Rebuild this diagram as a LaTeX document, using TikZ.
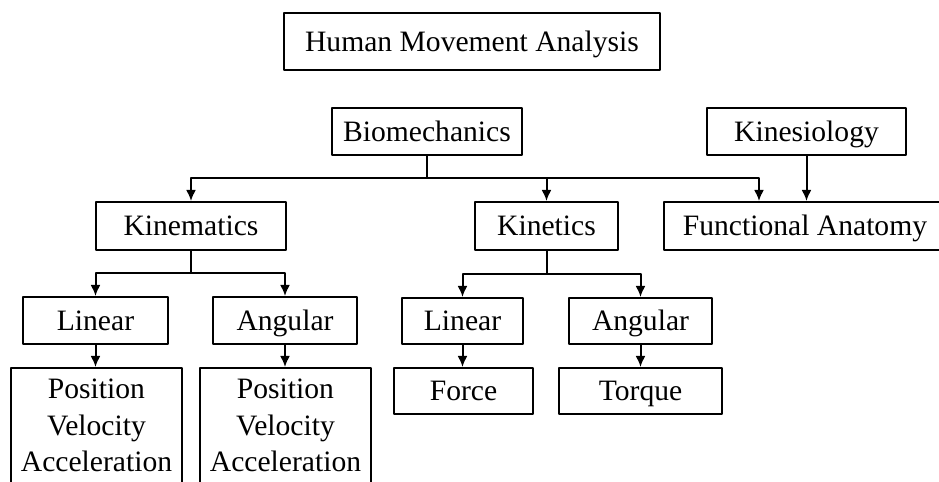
\documentclass[tikz,border=0pt]{standalone}
\usepackage{fontspec}
\setmainfont{Liberation Serif}
\usetikzlibrary{arrows.meta}
\begin{document}
\begin{tikzpicture}[>={Latex[length=11bp,width=10bp]},line join=bevel,
  box/.style={draw,line width=2bp,inner sep=0pt,align=center,
    font=\fontsize{29.6bp}{36.5bp}\selectfont},
  onebox/.style={box,text height=24bp,text depth=4bp},
  wire/.style={black,line width=2bp}]
\useasboundingbox (0bp,0bp) rectangle (939bp,482bp);
\clip (0bp,0bp) rectangle (939bp,482bp);
%%
\node (node_hma) at (472.0bp,440.5bp) [onebox,minimum width=376bp,minimum height=57bp] {Human Movement Analysis};
  \node (node_biomech) at (427.0bp,350.5bp) [onebox,minimum width=190bp,minimum height=47bp] {Biomechanics};
  \node (node_kinesio) at (806.5bp,350.5bp) [onebox,minimum width=199bp,minimum height=47bp] {Kinesiology};
  \node (node_kinematics) at (191.0bp,256.0bp) [onebox,minimum width=190bp,minimum height=48bp] {Kinematics};
  \node (node_kinetics) at (546.5bp,256.0bp) [onebox,minimum width=143bp,minimum height=48bp] {Kinetics};
  \node (node_funcanat) at (805.0bp,256.0bp) [onebox,minimum width=282bp,minimum height=48bp] {Functional Anatomy};
  \node (node_lin_a) at (95.5bp,161.5bp) [onebox,minimum width=145bp,minimum height=47bp] {Linear};
  \node (node_ang_a) at (285.0bp,161.5bp) [onebox,minimum width=144bp,minimum height=47bp] {Angular};
  \node (node_lin_b) at (462.5bp,161.0bp) [onebox,minimum width=121bp,minimum height=46bp] {Linear};
  \node (node_ang_b) at (640.5bp,161.0bp) [onebox,minimum width=143bp,minimum height=46bp] {Angular};
  \node (node_pos_a) at (96.5bp,56.5bp) [box,minimum width=171bp,minimum height=115bp] {Position\\Velocity\\Acceleration};
  \node (node_pos_b) at (285.5bp,56.5bp) [box,minimum width=171bp,minimum height=115bp] {Position\\Velocity\\Acceleration};
  \node (node_force) at (463.5bp,91.0bp) [onebox,minimum width=139bp,minimum height=46bp] {Force};
  \node (node_torque) at (640.5bp,91.0bp) [onebox,minimum width=163bp,minimum height=46bp] {Torque};
  \coordinate (bus_0) at (427.0bp,304.0bp);
  \coordinate (bus_1) at (191.0bp,209.0bp);
  \coordinate (bus_2) at (546.5bp,208.0bp);
  \draw [wire] (node_biomech) -- (bus_0);
  \draw [wire,->] (bus_0) -| (node_kinematics);
  \draw [wire,->] (bus_0) -| (node_kinetics);
  \draw [wire,->] (bus_0) -| ([xshift=96bp]node_funcanat.north west);
  \draw [wire,->] (node_kinesio) -- (node_funcanat.north -| node_kinesio);
  \draw [wire] (node_kinematics) -- (bus_1);
  \draw [wire,->] (bus_1) -| (node_lin_a);
  \draw [wire,->] (bus_1) -| (node_ang_a);
  \draw [wire] (node_kinetics) -- (bus_2);
  \draw [wire,->] (bus_2) -| (node_lin_b);
  \draw [wire,->] (bus_2) -| (node_ang_b);
  \draw [wire,->] (node_lin_a) -- (node_lin_a |- node_pos_a.north);
  \draw [wire,->] (node_ang_a) -- (node_ang_a |- node_pos_b.north);
  \draw [wire,->] (node_lin_b) -- (node_lin_b |- node_force.north);
  \draw [wire,->] (node_ang_b) -- (node_ang_b |- node_torque.north);
%
\end{tikzpicture}
\end{document}
